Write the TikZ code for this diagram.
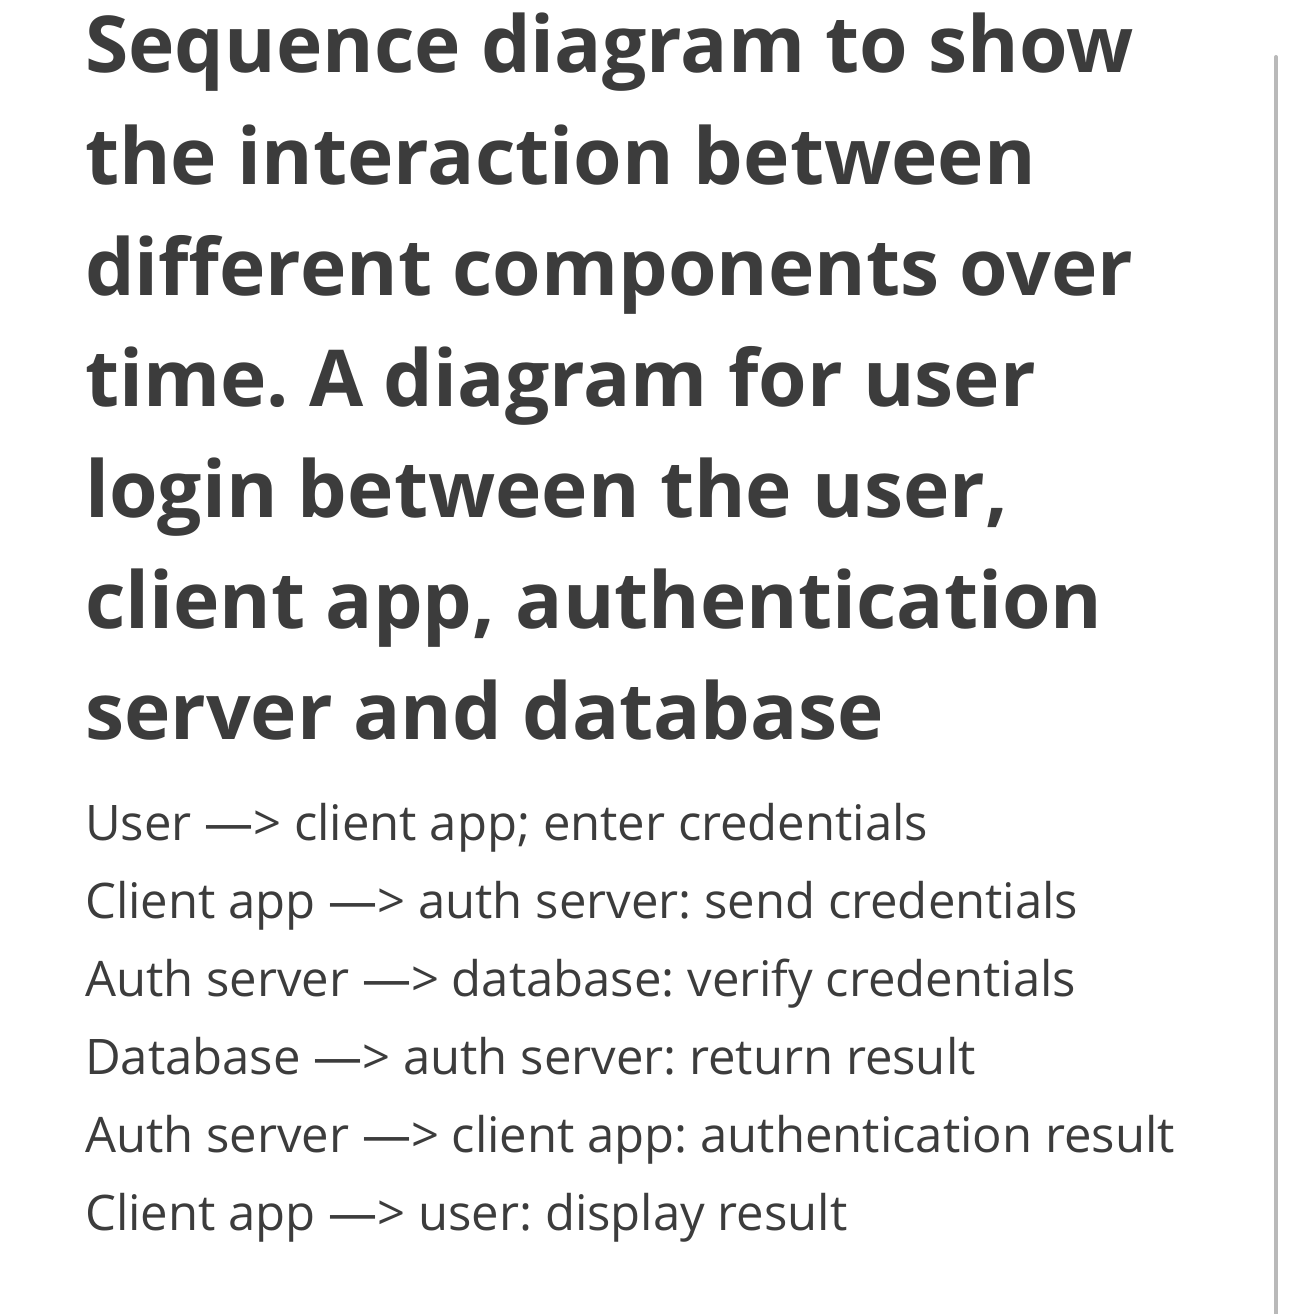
\documentclass[tikz,border=0pt]{standalone}
\usepackage{fontspec}
\setmainfont{Open Sans}
\frenchspacing
\definecolor{txt}{HTML}{3C3C3C}
\begin{document}
\begin{tikzpicture}[x=1pt,y=-1pt,
 head/.style={anchor=base west,inner sep=0pt,text=txt,font=\fontsize{78.5}{78.5}\selectfont\bfseries},
 body/.style={anchor=base west,inner sep=0pt,text=txt,font=\fontsize{49}{49}\selectfont}]
\useasboundingbox[fill=white] (0,0) rectangle (1290,1314);
\draw[line width=4pt,line cap=round,color=gray!55] (1276,57) -- (1276,1320);
\node[head] (h1) at (85,73) {Sequence diagram to show};
\node[head] (h2) at (85,184) {the interaction between};
\node[head] (h3) at (85,295) {different components over};
\node[head] (h4) at (85,406) {time. A diagram for user};
\node[head] (h5) at (85,517) {login between the user,};
\node[head] (h6) at (85,628) {client app, authentication};
\node[head] (h7) at (85,739) {server and database};
\node[body] (b1) at (85,840) {User —> client app; enter credentials};
\node[body] (b2) at (85,918) {Client app —> auth server: send credentials};
\node[body] (b3) at (85,996) {Auth server —> database: verify credentials};
\node[body] (b4) at (85,1074) {Database —> auth server: return result};
\node[body] (b5) at (85,1152) {Auth server —> client app: authentication result};
\node[body] (b6) at (85,1230) {Client app —> user: display result};
\end{tikzpicture}
\end{document}
